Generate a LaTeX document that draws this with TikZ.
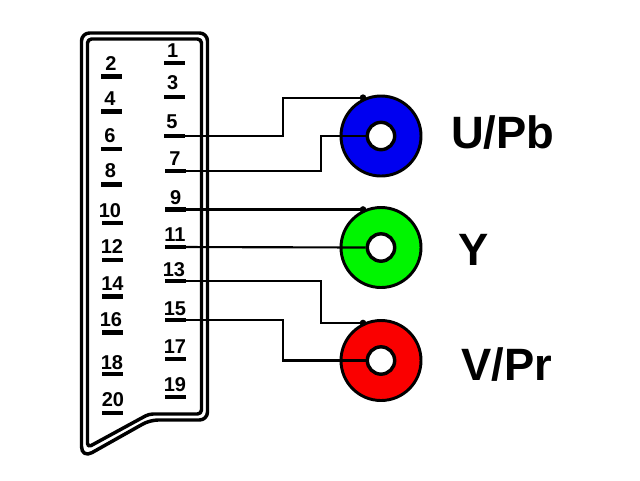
\documentclass[tikz,border=0pt]{standalone}
\usepackage{fontspec}
\setmainfont{Liberation Sans}
\definecolor{jackblue}{RGB}{0,0,240}
\definecolor{jackgreen}{RGB}{0,245,0}
\definecolor{jackred}{RGB}{250,0,0}
\tikzset{
  x=0.75pt,y=-0.75pt,
  shell/.style={line width=2.6pt,draw=black,rounded corners=6pt,line join=round},
  pinbar/.style={rectangle,fill=black,inner sep=0pt,minimum width=15.75pt,minimum height=3.2pt},
  pinnum/.style={anchor=base,inner sep=0pt,font=\bfseries\fontsize{15pt}{15pt}\selectfont},
  wire/.style={line width=1.6pt,draw=black,line join=miter},
  jack/.style={circle,draw=black,line width=2.2pt,inner sep=0pt,minimum size=60pt},
  hole/.style={circle,draw=black,fill=white,line width=2.6pt,inner sep=0pt,minimum size=20.5pt},
  tip/.style={circle,fill=black,inner sep=0pt,minimum size=5pt},
  jacklabel/.style={anchor=base west,inner sep=0pt,font=\bfseries\fontsize{34pt}{34pt}\selectfont}
}
\begin{document}
\begin{tikzpicture}
\useasboundingbox[fill=white] (0,0) rectangle (640,480);
% connector shell
\draw[shell] (81.5,33) -- (207.5,33) -- (207.5,420) -- (150,420) [rounded corners=9pt] -- (81.5,458.5) [rounded corners=6pt] -- cycle;
\draw[shell,rounded corners=3pt] (87.5,39) -- (201.5,39) -- (201.5,414) -- (149,414) -- (87.5,447.5) -- cycle;
% pins: number / bar x / bar y / label x / label baseline
\foreach \n/\bx/\by/\lx/\ly in {
  1/174.5/62.7/172.7/57.7, 3/174.5/96.7/172.7/89, 5/174.5/135.7/172/128.3,
  7/175.5/171/175/165.7, 9/175.5/209.5/175.7/204.3, 11/175.5/247/175/241.5,
  13/175/281/174/276, 15/175.5/320/175/315, 17/175.5/359/175/353, 19/175.5/397/175/391.7,
  2/111.5/76.5/111/70, 4/111.5/111.5/110/105.7, 6/111.5/149/110/142.7, 8/111.5/184.5/110.5/177.7,
  10/112.5/223/110/217.7, 12/112.5/260/112/253, 14/112.5/296.5/112.5/290.7, 16/112.5/332.5/111/326,
  18/112.5/374/112/369, 20/112.5/413/113/406.7}{
  \node[pinbar] (p\n) at (\bx,\by) {};
  \node[pinnum] (n\n) at (\lx,\ly) {\n};
}
% jacks
\node[jack,fill=jackblue] (jb) at (381,136) {};
\node[jack,fill=jackgreen] (jg) at (381,247.5) {};
\node[jack,fill=jackred] (jr) at (381,360.5) {};
\node[hole] (hb) at (381,136) {};
\node[hole] (hg) at (381,247.5) {};
\node[hole] (hr) at (381,360.5) {};
\node[tip] (tb) at (363,97.7) {};
\node[tip] (tg) at (363,209.5) {};
\node[tip] (tr) at (363,323) {};
% wires
\coordinate (b5) at (282.7,97.7);
\coordinate (b7) at (320.7,136);
\coordinate (b13) at (320.7,323);
\coordinate (b15) at (283,360.5);
\draw[wire] (p5.center) -| (b5) -- (tb.center);
\draw[wire] (p7.center) -| (b7) -- (hb.west);
\draw[wire] (p9.center) -- (tg.center);
\draw[wire] (p11.center) -- (hg.west);
\draw[wire] (p13.center) -| (b13) -- (tr.center);
\draw[wire] (p15.center) -| (b15) -- (hr.west);
% labels
\node[jacklabel] (lb) at (451,148) {U/Pb};
\node[jacklabel] (lg) at (458,265) {Y};
\node[jacklabel] (lr) at (461,380) {V/Pr};
\end{tikzpicture}
\end{document}
